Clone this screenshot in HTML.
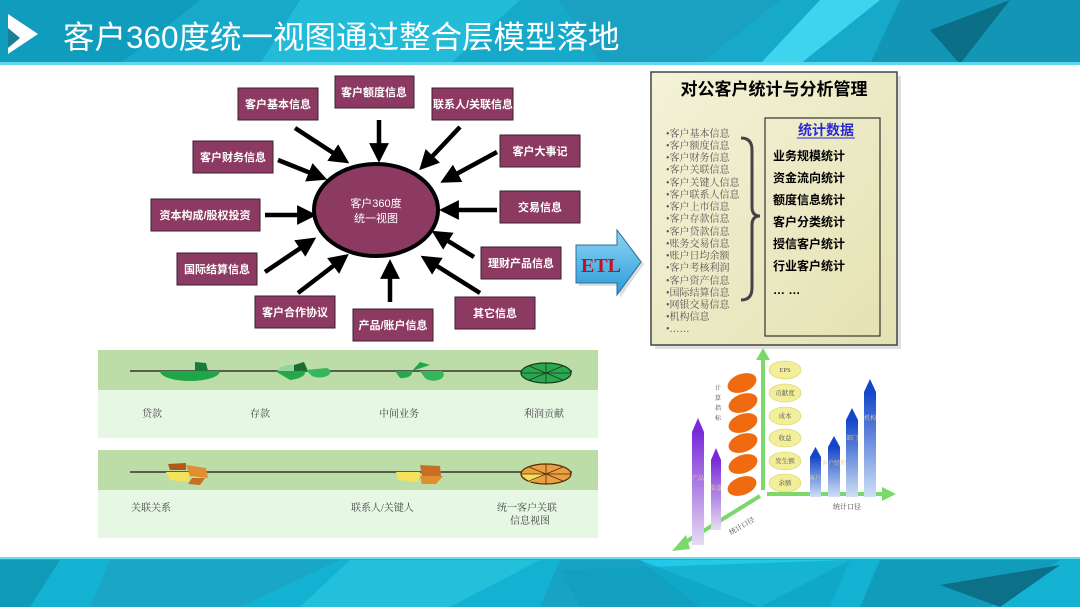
<!DOCTYPE html>
<html><head><meta charset="utf-8">
<style>
html,body{margin:0;padding:0;background:#fff;}
svg{display:block;font-family:"Liberation Serif","Noto Serif CJK SC","Noto Sans CJK SC",serif;}
.s{font-family:"Liberation Sans","Noto Sans CJK SC",sans-serif;}
</style></head><body>
<svg width="1080" height="607" viewBox="0 0 1080 607" xmlns="http://www.w3.org/2000/svg">
<defs>
<marker id="ah" markerWidth="4.4" markerHeight="4.4" refX="2.2" refY="2.2" orient="auto" markerUnits="strokeWidth"><path d="M0,0 L4.4,2.2 L0,4.4 Z" fill="#000"/></marker>
<linearGradient id="pur" x1="0" y1="0" x2="0" y2="1"><stop offset="0" stop-color="#7a2bd8"/><stop offset="1" stop-color="#e6dcf2"/></linearGradient>
<linearGradient id="blu" x1="0" y1="0" x2="0" y2="1"><stop offset="0" stop-color="#1446c8"/><stop offset="1" stop-color="#cfe0f5"/></linearGradient>
<linearGradient id="box" x1="0" y1="0" x2="1" y2="1"><stop offset="0" stop-color="#f4f2d8"/><stop offset="1" stop-color="#e4e2b2"/></linearGradient>
<linearGradient id="etl" x1="0" y1="0" x2="0" y2="1"><stop offset="0" stop-color="#8fd6f5"/><stop offset="1" stop-color="#2a9ad8"/></linearGradient>
</defs>
<!-- header -->
<rect x="0" y="0" width="1080" height="64" fill="#17a9c9"/>
<polygon points="0,0 200,0 120,64 0,64" fill="#0f9cbd"/>
<polygon points="300,0 520,0 450,64 260,64" fill="#22bbd8"/>
<polygon points="560,0 780,0 700,64 600,64" fill="#1aa0c0"/>
<polygon points="820,0 880,0 800,64 760,64" fill="#3fd4ee"/>
<polygon points="900,0 1080,0 1080,64 870,64" fill="#1396b6"/>
<polygon points="930,30 1010,0 960,64" fill="#0c6f88"/>
<rect x="0" y="62" width="1080" height="3" fill="#5fd7ee"/>
<polygon points="8,14 38,34 8,54" fill="#fff"/>
<polygon points="8,28 20,38 8,48" fill="#1b7f95"/>
<text x="63" y="48" class="s" font-size="31.5" fill="#fff">客户360度统一视图通过整合层模型落地</text>
<!-- footer -->
<rect x="0" y="558" width="1080" height="49" fill="#14b2d2"/>
<polygon points="0,560 60,560 30,607 0,607" fill="#0f9ab8"/>
<polygon points="110,560 340,560 240,607 90,607" fill="#1aa6c6"/>
<polygon points="350,560 540,560 450,607 300,607" fill="#23c0dc"/>
<polygon points="560,560 640,560 700,607 540,607" fill="#18a2c4"/>
<polygon points="640,560 850,560 760,607" fill="#22c9e8"/>
<polygon points="560,570 850,560 830,607 580,607" fill="#0c9dbd" opacity="0.5"/>
<polygon points="880,560 1060,560 990,607 860,607" fill="#119cbb"/>
<polygon points="940,585 1060,565 1000,607" fill="#0c7088"/>
<rect x="0" y="557" width="1080" height="2" fill="#6fdcef"/>

<!-- arrows to ellipse -->
<g stroke="#000" stroke-width="4.5" fill="none" marker-end="url(#ah)">
<line x1="295" y1="128" x2="341" y2="158"/>
<line x1="379" y1="120" x2="379" y2="153"/>
<line x1="460" y1="127" x2="426" y2="163"/>
<line x1="497" y1="152" x2="449" y2="178"/>
<line x1="278" y1="160" x2="318" y2="176"/>
<line x1="497" y1="210" x2="449" y2="210"/>
<line x1="265" y1="215" x2="307" y2="215"/>
<line x1="474" y1="257" x2="440" y2="236"/>
<line x1="265" y1="272" x2="308" y2="243"/>
<line x1="298" y1="293" x2="341" y2="260"/>
<line x1="390" y1="302" x2="390" y2="269"/>
<line x1="480" y1="293" x2="429" y2="261"/>
</g>
<ellipse cx="376" cy="210" rx="62" ry="46" fill="#8c3a61" stroke="#000" stroke-width="4"/>
<text x="376" y="207" font-size="11" fill="#fff" text-anchor="middle" class="s">客户360度</text>
<text x="376" y="222" font-size="11" fill="#fff" text-anchor="middle" class="s">统一视图</text>

<g fill="#8c3a61" stroke="#3a2030" stroke-width="1">
<rect x="238" y="88" width="80" height="32"/>
<rect x="335" y="76" width="79" height="32"/>
<rect x="432" y="88" width="81" height="32"/>
<rect x="500" y="135" width="80" height="32"/>
<rect x="500" y="191" width="80" height="32"/>
<rect x="481" y="247" width="80" height="32"/>
<rect x="455" y="297" width="80" height="32"/>
<rect x="353" y="309" width="80" height="32"/>
<rect x="255" y="296" width="80" height="32"/>
<rect x="177" y="253" width="80" height="32"/>
<rect x="151" y="199" width="109" height="32"/>
<rect x="193" y="141" width="80" height="32"/>
</g>
<g fill="#fff" font-size="11" font-weight="bold" text-anchor="middle" class="s">
<text x="278" y="108">客户基本信息</text>
<text x="374" y="96">客户额度信息</text>
<text x="473" y="108">联系人/关联信息</text>
<text x="540" y="155">客户大事记</text>
<text x="540" y="211">交易信息</text>
<text x="521" y="267">理财产品信息</text>
<text x="495" y="317">其它信息</text>
<text x="393" y="329">产品/账户信息</text>
<text x="295" y="316">客户合作协议</text>
<text x="217" y="273">国际结算信息</text>
<text x="205" y="219">资本构成/股权投资</text>
<text x="233" y="161">客户财务信息</text>
</g>

<!-- ETL arrow -->
<polygon points="579,248 620,248 620,233 644,264 620,298 620,286 579,286" fill="#bbb" opacity="0.5"/>
<polygon points="576,245 617,245 617,230 641,262 617,295 617,283 576,283" fill="url(#etl)" stroke="#2a6f99" stroke-width="1"/>
<text x="601" y="272" font-size="20" font-weight="bold" fill="#c8101c" text-anchor="middle">ETL</text>

<!-- right box -->
<rect x="655" y="76" width="246" height="273" fill="#ccc" opacity="0.6"/>
<rect x="651" y="72" width="246" height="273" fill="url(#box)" stroke="#444" stroke-width="1.5"/>
<text x="774" y="95" font-size="17" font-weight="bold" text-anchor="middle" class="s">对公客户统计与分析管理</text>
<rect x="765" y="118" width="115" height="218" fill="none" stroke="#333" stroke-width="1.2"/>
<g font-size="10" fill="#555">
<text x="666" y="137">•客户基本信息</text>
<text x="666" y="149">•客户额度信息</text>
<text x="666" y="161">•客户财务信息</text>
<text x="666" y="173">•客户关联信息</text>
<text x="666" y="186">•客户关键人信息</text>
<text x="666" y="198">•客户联系人信息</text>
<text x="666" y="210">•客户上市信息</text>
<text x="666" y="222">•客户存款信息</text>
<text x="666" y="235">•客户贷款信息</text>
<text x="666" y="247">•账务交易信息</text>
<text x="666" y="259">•账户日均余额</text>
<text x="666" y="271">•客户考核利润</text>
<text x="666" y="284">•客户资产信息</text>
<text x="666" y="296">•国际结算信息</text>
<text x="666" y="308">•网银交易信息</text>
<text x="666" y="320">•机构信息</text>
<text x="666" y="332">•……</text>
</g>
<path d="M741,138 Q752,138 752,150 L752,207 Q752,216 760,216 Q752,216 752,225 L752,288 Q752,300 741,300" fill="none" stroke="#444" stroke-width="3"/>
<text x="826" y="135" font-size="14" font-weight="bold" fill="#2a2ad0" text-anchor="middle" class="s">统计数据</text>
<line x1="797" y1="138" x2="855" y2="138" stroke="#2a2ad0" stroke-width="1"/>
<g font-size="12" font-weight="bold" class="s">
<text x="773" y="160">业务规模统计</text>
<text x="773" y="182">资金流向统计</text>
<text x="773" y="204">额度信息统计</text>
<text x="773" y="226">客户分类统计</text>
<text x="773" y="248">授信客户统计</text>
<text x="773" y="270">行业客户统计</text>
<text x="773" y="294">…  …</text>
</g>

<!-- green panels -->
<rect x="98" y="350" width="500" height="88" fill="#e6f7e4"/>
<rect x="98" y="350" width="500" height="40" fill="#bcdca8"/>
<rect x="98" y="450" width="500" height="88" fill="#e6f7e4"/>
<rect x="98" y="450" width="500" height="40" fill="#bcdca8"/>
<line x1="130" y1="371" x2="572" y2="371" stroke="#333" stroke-width="1.5"/>
<line x1="130" y1="472" x2="572" y2="472" stroke="#333" stroke-width="1.5"/>
<g>
<path d="M160,371 L190,371 A30,10 0 0 1 160,381 A30,10 0 0 1 130,371 Z" fill="#1fa646" transform="translate(30,0)"/>
<path d="M195,371 L195,362 L206,363 L208,371 Z" fill="#1a7a3a"/>
<path d="M275,371 L305,371 A20,8 0 0 1 290,380 Z" fill="#26a84a"/>
<path d="M278,371 A14,6 0 0 1 294,365 L294,371 Z" fill="#8fd69a"/>
<path d="M294,365 L304,362 L308,371 L294,371 Z" fill="#1a6e32"/>
<path d="M306,370 L327,368 A10,5 0 0 1 312,376 Z" fill="#34b65a"/>
<path d="M395,371 L412,371 A10,6 0 0 1 400,378 Z" fill="#28a84c"/>
<path d="M412,371 L420,362 L430,365 Z" fill="#1fa646"/>
<path d="M420,371 L442,371 A10,6 0 0 1 425,378 Z" fill="#34b65a"/>
<ellipse cx="546" cy="373" rx="25" ry="10" fill="#2aa84e" stroke="#1b3a22" stroke-width="1.2"/>
<path d="M521,373 L571,373 M546,363 L546,383 M529,366 L563,380 M529,380 L563,366" stroke="#1b3a22" stroke-width="0.8"/>
</g>
<g>
<path d="M166,472 L190,472 L188,482 L170,480 Z" fill="#f5e25a"/>
<path d="M168,464 L186,463 L186,470 L170,470 Z" fill="#b05a1a"/>
<path d="M186,465 L206,468 L208,478 L190,476 Z" fill="#e08f30"/>
<path d="M192,478 L205,478 L200,485 L188,484 Z" fill="#c77025"/>
<path d="M396,472 L420,472 L418,482 L398,480 Z" fill="#f5e25a"/>
<path d="M420,465 L440,466 L441,476 L422,476 Z" fill="#c77025"/>
<path d="M420,476 L443,476 L436,484 L422,484 Z" fill="#e08f30"/>
<ellipse cx="546" cy="474" rx="25" ry="10" fill="#e8a040" stroke="#5a2a0a" stroke-width="1.2"/>
<path d="M521,474 L546,474 L530,482 Z" fill="#f5e25a"/>
<path d="M521,474 L571,474 M546,464 L546,484 M529,467 L563,481 M529,481 L563,467" stroke="#5a2a0a" stroke-width="0.8"/>
</g>
<g font-size="10" fill="#444">
<text x="142" y="417">贷款</text>
<text x="250" y="417">存款</text>
<text x="379" y="417">中间业务</text>
<text x="524" y="417">利润贡献</text>
<text x="131" y="511">关联关系</text>
<text x="351" y="511">联系人/关键人</text>
<text x="497" y="511">统一客户关联</text>
<text x="510" y="524">信息视图</text>
</g>

<!-- chart -->
<g stroke="#7bd86a" stroke-width="4" fill="#7bd86a">
<line x1="763" y1="490" x2="763" y2="358"/>
<polygon points="756,360 763,348 770,360" stroke="none"/>
<line x1="767" y1="494" x2="884" y2="494"/>
<polygon points="882,487 896,494 882,501" stroke="none"/>
<line x1="760" y1="496" x2="684" y2="543"/>
<polygon points="686,535 672,551 690,549" stroke="none"/>
</g>
<g>
<rect x="692" y="432" width="12" height="113" fill="url(#pur)"/><polygon points="692,432 698,418 704,432" fill="#7a2bd8"/>
<rect x="711" y="460" width="10" height="70" fill="url(#pur)"/><polygon points="711,460 716,448 721,460" fill="#7a2bd8"/>
<rect x="810" y="457" width="11" height="40" fill="url(#blu)"/><polygon points="810,457 815.5,447 821,457" fill="#1446c8"/>
<rect x="828" y="447" width="12" height="50" fill="url(#blu)"/><polygon points="828,447 834,436 840,447" fill="#1446c8"/>
<rect x="846" y="420" width="12" height="77" fill="url(#blu)"/><polygon points="846,420 852,408 858,420" fill="#1446c8"/>
<rect x="864" y="392" width="12" height="105" fill="url(#blu)"/><polygon points="864,392 870,379 876,392" fill="#1446c8"/>
</g>
<g font-size="6" fill="#e8d0a0" text-anchor="middle">
<text x="698" y="480">产品</text><text x="716" y="490">渠道</text>
<text x="815" y="480">客户</text><text x="834" y="465">客户经理</text><text x="852" y="440">部门</text><text x="870" y="420">机构</text>
</g>
<g fill="#f06a10">
<ellipse cx="742" cy="383" rx="15" ry="9" transform="rotate(-20 742 383)"/>
<ellipse cx="743" cy="403" rx="15" ry="9" transform="rotate(-20 743 403)"/>
<ellipse cx="743" cy="423" rx="15" ry="9" transform="rotate(-20 743 423)"/>
<ellipse cx="743" cy="443" rx="15" ry="9" transform="rotate(-20 743 443)"/>
<ellipse cx="743" cy="464" rx="15" ry="9" transform="rotate(-20 743 464)"/>
<ellipse cx="742" cy="486" rx="15" ry="9" transform="rotate(-20 742 486)"/>
</g>
<g fill="#f2ee9a" stroke="#d8d060" stroke-width="0.6">
<ellipse cx="785" cy="370" rx="16" ry="9"/>
<ellipse cx="785" cy="393" rx="16" ry="9"/>
<ellipse cx="785" cy="416" rx="16" ry="9"/>
<ellipse cx="785" cy="438" rx="16" ry="9"/>
<ellipse cx="785" cy="461" rx="16" ry="9"/>
<ellipse cx="785" cy="483" rx="16" ry="9"/>
</g>
<g font-size="6.5" fill="#555" text-anchor="middle">
<text x="785" y="372">EPS</text><text x="785" y="395">贡献度</text><text x="785" y="418">成本</text>
<text x="785" y="440">收益</text><text x="785" y="463">发生额</text><text x="785" y="485">余额</text>
</g>
<g font-size="6" fill="#444" text-anchor="middle">
<text x="718" y="390">计</text><text x="718" y="400">算</text><text x="718" y="410">指</text><text x="718" y="420">标</text>
</g>
<text x="847" y="509" font-size="7" fill="#444" text-anchor="middle">统计口径</text>
<text x="743" y="528" font-size="7" fill="#444" text-anchor="middle" transform="rotate(-30 743 528)">统计口径</text>
</svg>
</body></html>
